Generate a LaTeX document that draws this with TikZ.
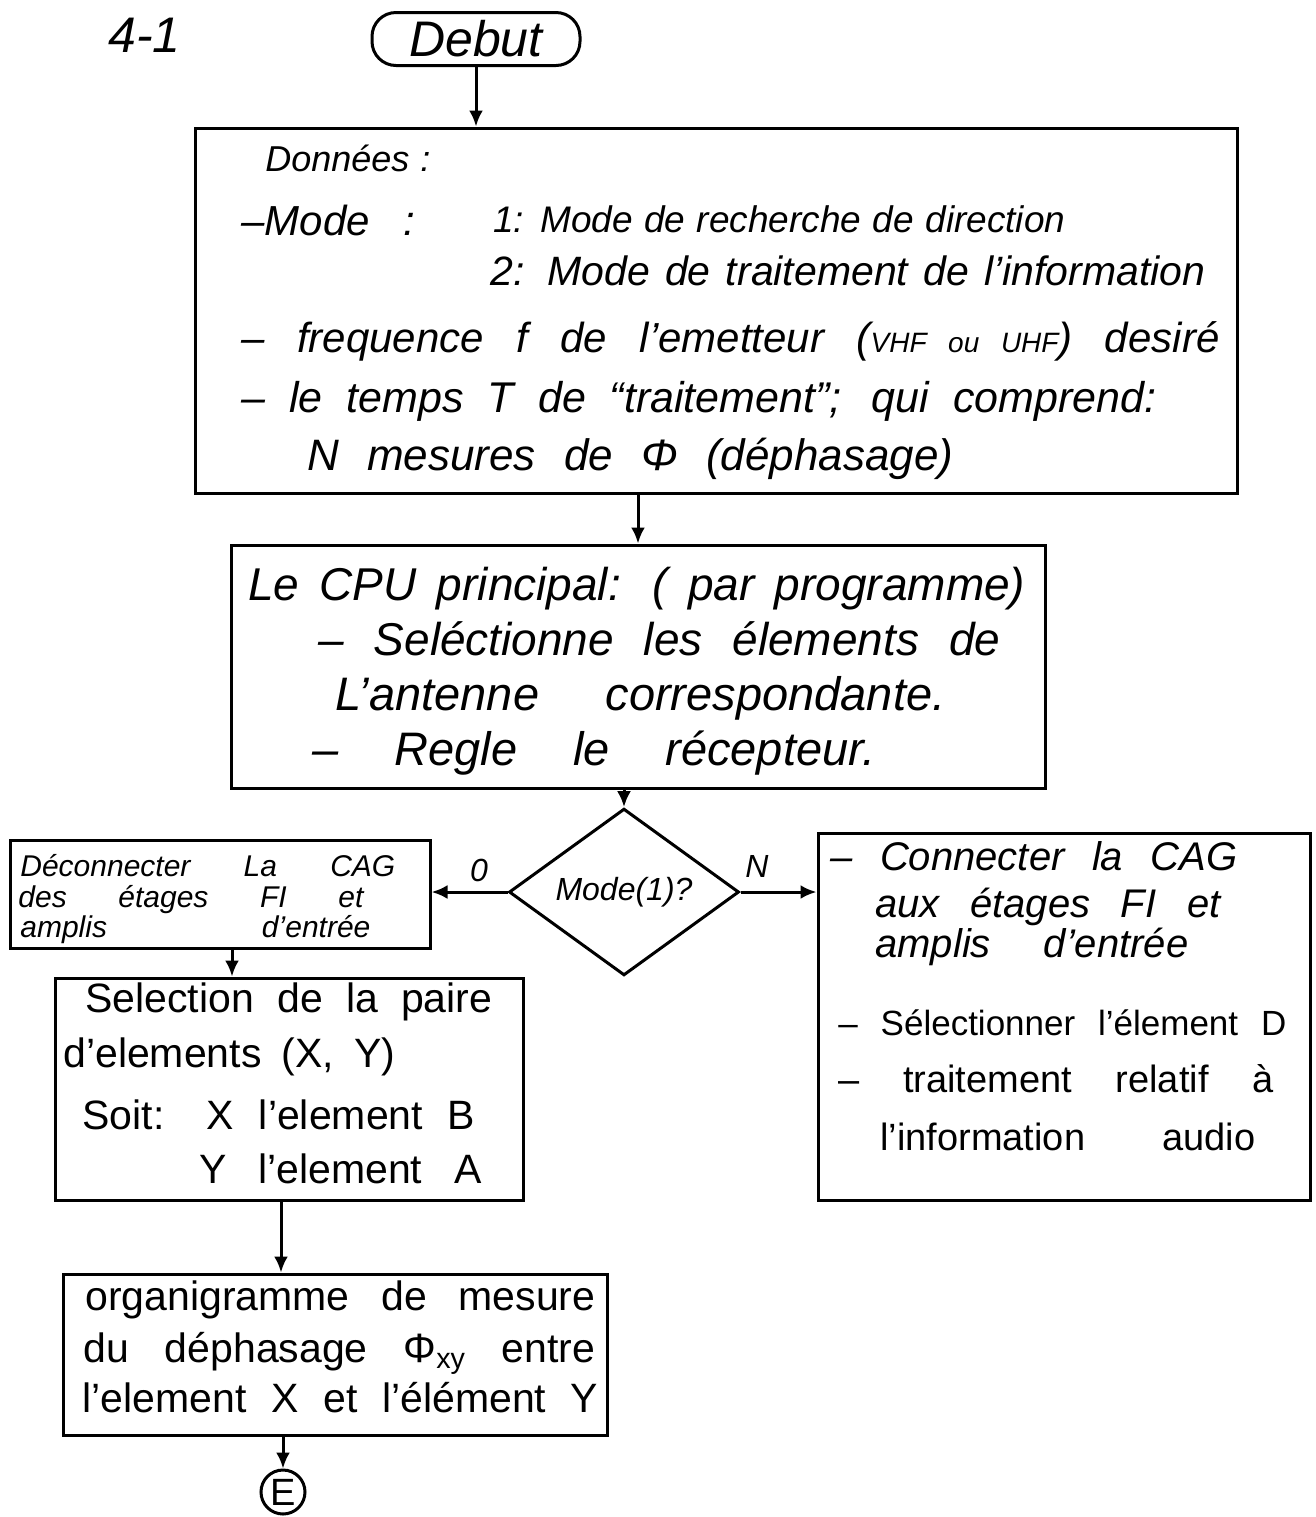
\documentclass[tikz,border=0pt]{standalone}
\usepackage{fontspec}
\setmainfont{Liberation Sans}
\usetikzlibrary{shapes.geometric,arrows.meta}
\newcommand{\fillto}[2]{\makebox[\dimexpr#1pt/2\relax][s]{#2}}
\newcommand{\fs}[1]{\fontsize{#1}{#1}\selectfont}
\tikzset{
  box/.style={draw, line width=1.5pt, rectangle, inner sep=0pt},
  txt/.style={inner sep=0pt, anchor=base west},
  arr/.style={line width=1.5pt, -{Latex[length=8pt,width=7pt]}},
  it/.style={font=\itshape},
  fG/.style={font=\fontsize{25}{30}\selectfont\itshape},
}
\begin{document}
\begin{tikzpicture}[x=0.5pt,y=-0.5pt]
\useasboundingbox[fill=white] (0,0) rectangle (1316,1517);

% title
\node[txt,fG] (title) at (108,52) {4-1};

% start
\node[draw, line width=1.5pt, rounded corners=12pt, minimum width=104pt, minimum height=26.5pt, inner sep=0pt, fG] (debut) at (476,39) {Debut};

% box 1 : donnees
\node[box, minimum width=521pt, minimum height=182.5pt] (box1) at (716,310.5) {};
\node[txt,it] (d0) at (265,171) {\fs{18}\fillto{165}{Données :}};
\node[txt,it] (d1) at (241,235) {\fs{21}\fillto{174}{–Mode :}};
\node[txt,it] (d2) at (493,232) {\fs{18.5}\fillto{572}{1: Mode de recherche de direction}};
\node[txt,it] (d3) at (490,285) {\fs{20.5}\fillto{715}{2: Mode de traitement de l'information}};
\node[txt,it] (d4) at (241,352) {\fs{21}\fillto{978}{– frequence f de l'emetteur ({\fs{14}VHF ou UHF}) desiré}};
\node[txt,it] (d5) at (241,412) {\fs{21.5}\fillto{915}{– le temps T de “traitement”; qui comprend:}};
\node[txt,it] (d6) at (307,470) {\fs{22}\fillto{646}{N mesures de Φ (déphasage)}};

% box 2 : CPU
\node[box, minimum width=407pt, minimum height=121.5pt] (box2) at (638,666.5) {};
\node[txt,it] (c0) at (248,600) {\fs{23}\fillto{777}{Le CPU principal: ( par programme)}};
\node[txt,it] (c1) at (318,655) {\fs{23}\fillto{682}{– Seléctionne les élements de}};
\node[txt,it] (c2) at (335,710) {\fs{23.5}\fillto{610}{L'antenne correspondante.}};
\node[txt,it] (c3) at (312,765) {\fs{23.5}\fillto{563}{– Regle le récepteur.}};

% decision
\node[draw, diamond, line width=1.5pt, minimum width=115pt, minimum height=67.5pt, inner sep=0pt, font=\fs{16}\itshape] (dia) at (624,892) {Mode(1)?};
\node[inner sep=0pt, font=\fs{16}\itshape] (lab0) at (479,870) {0};
\node[inner sep=0pt, font=\fs{16}\itshape] (labN) at (757,866) {N};

% left box
\node[box, minimum width=210pt, minimum height=54pt] (decon) at (220,894) {};
\node[txt,it] (l0) at (20,876) {\fs{15}\fillto{375}{Déconnecter La CAG}};
\node[txt,it] (l1) at (18,907) {\fs{15}\fillto{345}{des étages FI et}};
\node[txt,it] (l2) at (20,937) {\fs{15}\fillto{350}{amplis d'entrée}};

% right box
\node[box, minimum width=246pt, minimum height=183.5pt] (rbox) at (1064,1016.5) {};
\node[txt,it] (r0) at (830,870) {\fs{20}\fillto{407}{– Connecter la CAG}};
\node[txt,it] (r1) at (875,917) {\fs{20}\fillto{345}{aux étages FI et}};
\node[txt,it] (r2) at (875,957) {\fs{20}\fillto{313}{amplis d'entrée}};
\node[txt] (r3) at (838,1035) {\fs{17.5}\fillto{448}{– Sélectionner l'élement D}};
\node[txt] (r4) at (838,1092) {\fs{19}\fillto{435}{– traitement relatif à}};
\node[txt] (r5) at (880,1150) {\fs{19}\fillto{375}{l'information audio}};

% selection box
\node[box, minimum width=234pt, minimum height=111pt] (sel) at (289,1089) {};
\node[txt] (s0) at (85,1012) {\fs{20.5}\fillto{407}{Selection de la paire}};
\node[txt] (s1) at (63,1067) {\fs{20.5}\fillto{332}{d'elements (X, Y)}};
\node[txt] (s2) at (82,1129) {\fs{20.5}\fillto{393}{Soit: X l'element B}};
\node[txt] (s3) at (199,1183) {\fs{20.5}\fillto{282}{Y l'element A}};

% organigramme box
\node[box, minimum width=272pt, minimum height=80.5pt] (org) at (335,1354.5) {};
\node[txt] (o0) at (85,1310) {\fs{20.5}\fillto{510}{organigramme de mesure}};
\node[txt] (o1) at (83,1362) {\fs{20.5}\fillto{512}{du déphasage Φ\textsubscript{xy} entre}};
\node[txt] (o2) at (82,1412) {\fs{20.5}\fillto{516}{l'element X et l'élément Y}};

% connector E
\node[draw, circle, line width=1.5pt, minimum size=22pt, inner sep=0pt, font=\fs{19}] (E) at (283,1492) {E};

% connectors
\draw[arr] (debut.south) -- (debut.south |- box1.north);
\draw[arr] (box2.north |- box1.south) -- (box2.north);
\draw[arr] (dia.north |- box2.south) -- (dia.north);
\draw[arr] (dia.west) -- (dia.west -| decon.east);
\draw[arr] (dia.east) -- (dia.east -| rbox.west);
\draw[arr] ([xshift=6pt]decon.south) -- ([xshift=6pt]decon.south |- sel.north);
\draw[arr] ([xshift=-4pt]sel.south) -- ([xshift=-4pt]sel.south |- org.north);
\draw[arr] (E.north |- org.south) -- (E.north);
\end{tikzpicture}
\end{document}
